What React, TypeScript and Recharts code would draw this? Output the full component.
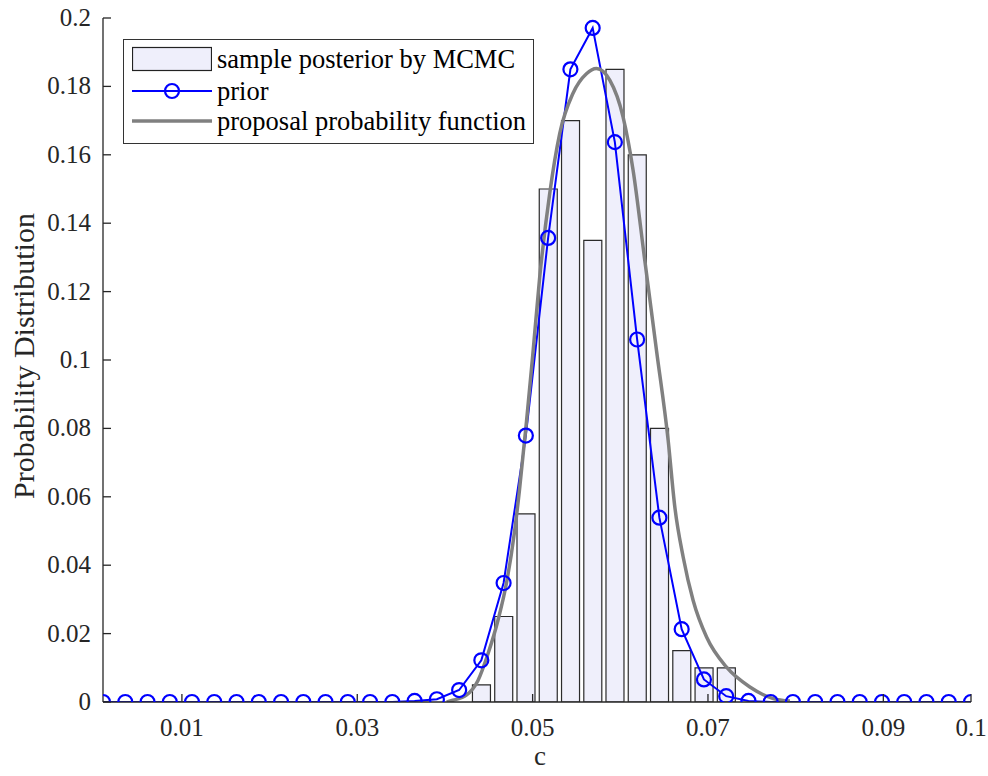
import React from 'react';
import { ComposedChart, Bar, Line, XAxis, YAxis, Legend } from 'recharts';

// grid of c values shared by the histogram and the prior
const cValues = [
  0.001, 0.00354, 0.00608, 0.00862, 0.01115, 0.01369, 0.01623, 0.01877, 0.02131, 0.02385,
  0.02638, 0.02892, 0.03146, 0.034, 0.03654, 0.03908, 0.04162, 0.04415, 0.04669, 0.04923,
  0.05177, 0.05431, 0.05685, 0.05938, 0.06192, 0.06446, 0.067, 0.06954, 0.07208, 0.07462,
  0.07715, 0.07969, 0.08223, 0.08477, 0.08731, 0.08985, 0.09238, 0.09492, 0.09746, 0.1,
];

const posteriorValues = [
  0, 0, 0, 0, 0, 0, 0, 0, 0, 0,
  0, 0, 0, 0, 0, 0, 0, 0.005, 0.025, 0.055,
  0.15, 0.17, 0.135, 0.185, 0.16, 0.08, 0.015, 0.01, 0.01, 0,
  0, 0, 0, 0, 0, 0, 0, 0, 0, 0,
];

const priorValues = [
  0, 0, 0, 0, 0, 0, 0, 0, 0, 0,
  0, 0, 0, 0, 0.0003, 0.0008, 0.0035, 0.0122, 0.0348, 0.0779,
  0.1357, 0.185, 0.1971, 0.1637, 0.106, 0.0539, 0.0213, 0.0066, 0.0017, 0.0003,
  0, 0, 0, 0, 0, 0, 0, 0, 0, 0,
];

const proposalC = [
  0.0402, 0.0409, 0.04244, 0.04377, 0.04491, 0.04605, 0.04708, 0.04796, 0.0485, 0.0493,
  0.05, 0.0508, 0.05195, 0.05309, 0.05461, 0.05614, 0.05728, 0.0588, 0.06032, 0.06146,
  0.0628, 0.06413, 0.06546, 0.06622, 0.06717, 0.06831, 0.06984, 0.07212, 0.07478, 0.07744,
  0.07935,
];

const proposalValues = [
  0, 0.0005, 0.002, 0.0063, 0.0141, 0.0239, 0.0356, 0.0502, 0.062, 0.082,
  0.101, 0.124, 0.1487, 0.1662, 0.178, 0.1837, 0.1852, 0.1818, 0.171, 0.1555,
  0.129, 0.1028, 0.0765, 0.057, 0.0424, 0.0297, 0.019, 0.0102, 0.0044, 0.001,
  0.0003,
];

const xTicks = [0.01, 0.03, 0.05, 0.07, 0.09, 0.1];
const yTicks = [0, 0.02, 0.04, 0.06, 0.08, 0.1, 0.12, 0.14, 0.16, 0.18, 0.2];

const data = cValues.map((c, i) => ({ c, posterior: posteriorValues[i], prior: priorValues[i] }));
const proposalData = proposalC.map((c, i) => ({ c, proposal: proposalValues[i] }));

const FONT = '"Liberation Serif", "Times New Roman", serif';
const INK = '#262626';
const TICK = 8;

const BottomTick = (props: any) => {
  const { x, y, payload } = props;
  return (
    <g>
      <line x1={x} y1={y} x2={x} y2={y - TICK} stroke={INK} strokeWidth={1.3} />
      <text x={x} y={y + 34} textAnchor="middle" fontFamily={FONT} fontSize={25} fill={INK}>
        {payload.value}
      </text>
    </g>
  );
};

const TopTick = (props: any) => (
  <line x1={props.x} y1={props.y} x2={props.x} y2={props.y + TICK} stroke={INK} strokeWidth={1.3} />
);

const LeftTick = (props: any) => {
  const { x, y, payload } = props;
  return (
    <g>
      <line x1={x} y1={y} x2={x + TICK} y2={y} stroke={INK} strokeWidth={1.3} />
      <text x={x - 12} y={y + 8} textAnchor="end" fontFamily={FONT} fontSize={25} fill={INK}>
        {payload.value}
      </text>
    </g>
  );
};

const RightTick = (props: any) => (
  <line x1={props.x} y1={props.y} x2={props.x - TICK} y2={props.y} stroke={INK} strokeWidth={1.3} />
);

const renderLegend = () => {
  const row = (top: number, swatch: React.ReactNode, text: string) => (
    <div style={{ position: 'absolute', left: 8, top, height: 30, display: 'flex', alignItems: 'center' }}>
      <svg width={80} height={30} style={{ display: 'block' }}>{swatch}</svg>
      <span style={{ marginLeft: 5, fontFamily: FONT, fontSize: 26.5, color: '#000', lineHeight: '30px', whiteSpace: 'nowrap' }}>
        {text}
      </span>
    </div>
  );
  return (
    <div
      style={{
        position: 'relative',
        width: 409,
        height: 103,
        border: '1px solid #333',
        background: '#fff',
      }}
    >
      {row(4, <rect x={0.5} y={3.5} width={79} height={23} fill="#EFEFFB" stroke="#222" strokeWidth={1.2} />, 'sample posterior by MCMC')}
      {row(36, (
        <g>
          <line x1={0} y1={15} x2={80} y2={15} stroke="#0000FF" strokeWidth={2} />
          <circle cx={40} cy={15} r={7} fill="none" stroke="#0000FF" strokeWidth={2.2} />
        </g>
      ), 'prior')}
      {row(66, <line x1={0} y1={15} x2={80} y2={15} stroke="#808080" strokeWidth={3.5} />, 'proposal probability function')}
    </div>
  );
};

export default function App() {
  return (
    <div style={{ position: 'absolute', left: 0, top: 0, background: '#fff' }}>
      <ComposedChart
        width={988}
        height={776}
        data={data}
        margin={{ top: 18, right: 17, bottom: 0, left: 0 }}
      >
        <XAxis
          dataKey="c"
          type="number"
          domain={[0.001, 0.1]}
          allowDataOverflow
          ticks={xTicks}
          interval={0}
          height={74}
          tickSize={0}
          tickMargin={0}
          tickLine={false}
          tick={BottomTick}
          axisLine={{ stroke: INK, strokeWidth: 1.3 }}
          label={() => (
            <text x={540} y={765} textAnchor="middle" fontFamily={FONT} fontSize={27} fill={INK}>
              c
            </text>
          )}
        />
        <XAxis
          xAxisId="top"
          orientation="top"
          type="number"
          domain={[0.001, 0.1]}
          allowDataOverflow
          ticks={xTicks}
          interval={0}
          height={0}
          tickSize={0}
          tickMargin={0}
          tickLine={false}
          tick={TopTick}
          axisLine={{ stroke: INK, strokeWidth: 1.3 }}
        />
        <XAxis xAxisId="p" dataKey="c" type="number" domain={[0.001, 0.1]} allowDataOverflow hide />
        <YAxis
          type="number"
          domain={[0, 0.2]}
          allowDataOverflow
          ticks={yTicks}
          interval={0}
          width={103}
          tickSize={0}
          tickMargin={0}
          tickLine={false}
          tick={LeftTick}
          axisLine={{ stroke: INK, strokeWidth: 1.3 }}
          label={() => (
            <text
              x={23}
              y={356}
              transform="rotate(-90 23 356)"
              textAnchor="middle"
              dominantBaseline="central"
              fontFamily={FONT}
              fontSize={30}
              fill={INK}
            >
              Probability Distribution
            </text>
          )}
        />
        <YAxis
          yAxisId="right"
          orientation="right"
          type="number"
          domain={[0, 0.2]}
          allowDataOverflow
          ticks={yTicks}
          interval={0}
          width={0}
          tickSize={0}
          tickMargin={0}
          tickLine={false}
          tick={RightTick}
          axisLine={{ stroke: INK, strokeWidth: 1.3 }}
        />
        <Legend
          layout="vertical"
          align="center"
          verticalAlign="middle"
          content={renderLegend}
          wrapperStyle={{ left: 123, top: 39, width: 411, height: 105 }}
        />
        <Bar
          dataKey="posterior"
          fill="#EFEFFB"
          stroke="#2b2b2b"
          strokeWidth={1.2}
          isAnimationActive={false}
        />
        <Line
          dataKey="prior"
          type="linear"
          stroke="#0000FF"
          strokeWidth={2}
          dot={{ r: 7, stroke: '#0000FF', strokeWidth: 2.2, fill: 'none' }}
          isAnimationActive={false}
        />
        <Line
          data={proposalData}
          xAxisId="p"
          dataKey="proposal"
          type="monotone"
          stroke="#808080"
          strokeWidth={3.5}
          dot={false}
          isAnimationActive={false}
        />
      </ComposedChart>
    </div>
  );
}
